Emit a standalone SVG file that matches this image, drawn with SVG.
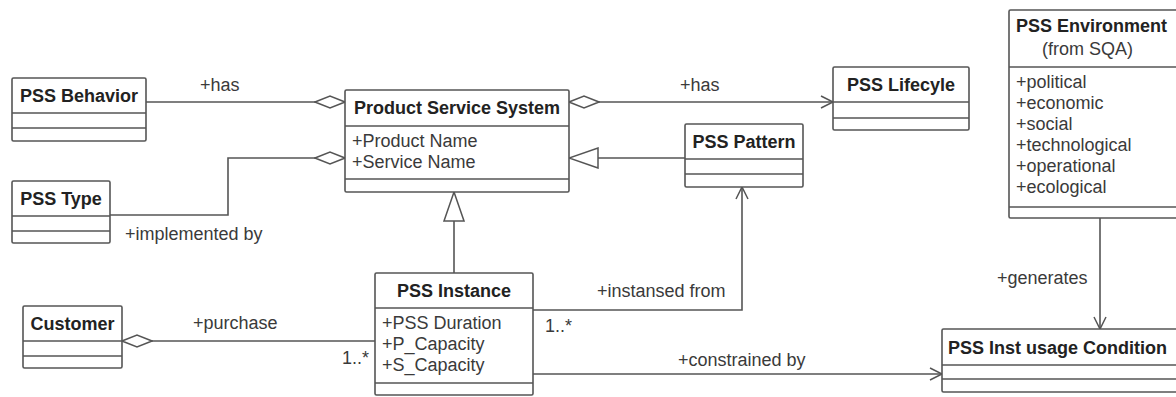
<svg xmlns="http://www.w3.org/2000/svg" width="1176" height="397" viewBox="0 0 1176 397">
<style>
.box{fill:#ffffff;stroke:#555555;stroke-width:1.6}
.div{stroke:#555555;stroke-width:1.6;fill:none}
.ln{stroke:#555555;stroke-width:1.6;fill:none}
.t{font-family:"Liberation Sans",Arial,sans-serif;font-size:18px;fill:#3a3a3a}
.b{font-weight:bold;fill:#222222}
.m{text-anchor:middle}
</style>
<defs>
<marker id="dia" markerUnits="userSpaceOnUse" viewBox="-1 -1 32 14" markerWidth="32" markerHeight="14" refX="30" refY="6" orient="auto-start-reverse">
<path d="M0,6 L15,0 L30,6 L15,12 Z" fill="#ffffff" stroke="#555555" stroke-width="1.5"/>
</marker>
<marker id="arr" markerUnits="userSpaceOnUse" viewBox="-1 -1 15 14" markerWidth="15" markerHeight="14" refX="12" refY="6" orient="auto">
<path d="M0,0 L12,6 L0,12" fill="none" stroke="#555555" stroke-width="1.5"/>
</marker>
<marker id="tri" markerUnits="userSpaceOnUse" viewBox="-1 -1 32 22" markerWidth="32" markerHeight="22" refX="29" refY="10" orient="auto">
<path d="M0,0 L29,10 L0,20 Z" fill="#ffffff" stroke="#555555" stroke-width="1.5"/>
</marker>
</defs>
<rect width="1176" height="397" fill="#ffffff"/>

<g id="connectors">
<path class="ln" d="M146,102 L345,102" marker-end="url(#dia)"/>
<path class="ln" d="M110,215 L228,215 L228,158 L345,158" marker-end="url(#dia)"/>
<path class="ln" d="M569,102 L833,102" marker-start="url(#dia)" marker-end="url(#arr)"/>
<path class="ln" d="M685,158 L569,158" marker-end="url(#tri)"/>
<path class="ln" d="M454,273 L454,192" marker-end="url(#tri)"/>
<path class="ln" d="M533,310 L742,310 L742,187" marker-end="url(#arr)"/>
<path class="ln" d="M375,341 L122,341" marker-end="url(#dia)"/>
<path class="ln" d="M533,374 L942,374" marker-end="url(#arr)"/>
<path class="ln" d="M1100,218 L1100,329" marker-end="url(#arr)"/>
<text class="t" x="200" y="91">+has</text>
<text class="t" x="125" y="240">+implemented by</text>
<text class="t" x="680" y="91">+has</text>
<text class="t" x="597" y="297">+instansed from</text>
<text class="t" x="545" y="332">1..*</text>
<text class="t" x="193" y="329">+purchase</text>
<text class="t" x="342" y="364">1..*</text>
<text class="t" x="678" y="366">+constrained by</text>
<text class="t" x="997" y="284">+generates</text>
</g>

<g id="pss-behavior">
<rect class="box" x="12" y="78" width="134" height="63" rx="1.5"/>
<path class="div" d="M12,113 H146 M12,128 H146"/>
<text class="t b m" x="79" y="102">PSS Behavior</text>
</g>

<g id="pss-type">
<rect class="box" x="12" y="181" width="98" height="62" rx="1.5"/>
<path class="div" d="M12,216 H110 M12,231 H110"/>
<text class="t b m" x="61" y="205">PSS Type</text>
</g>

<g id="product-service-system">
<rect class="box" x="345" y="90" width="224" height="102" rx="1.5"/>
<path class="div" d="M345,126 H569 M345,179 H569"/>
<text class="t b m" x="457" y="114">Product Service System</text>
<text class="t" x="352" y="147">+Product Name</text>
<text class="t" x="352" y="168">+Service Name</text>
</g>

<g id="pss-lifecycle">
<rect class="box" x="833" y="67" width="136" height="63" rx="1.5"/>
<path class="div" d="M833,102 H969 M833,118 H969"/>
<text class="t b m" x="901" y="91">PSS Lifecyle</text>
</g>

<g id="pss-pattern">
<rect class="box" x="685" y="124" width="118" height="63" rx="1.5"/>
<path class="div" d="M685,159 H803 M685,174 H803"/>
<text class="t b m" x="744" y="148">PSS Pattern</text>
</g>

<g id="pss-environment">
<rect class="box" x="1009" y="10" width="175" height="208" rx="1.5"/>
<path class="div" d="M1009,67 H1184 M1009,207 H1184"/>
<text class="t b" x="1016" y="32">PSS Environment</text>
<text class="t" x="1042" y="55">(from SQA)</text>
<text class="t" x="1016" y="88">+political</text>
<text class="t" x="1016" y="109">+economic</text>
<text class="t" x="1016" y="130">+social</text>
<text class="t" x="1016" y="151">+technological</text>
<text class="t" x="1016" y="172">+operational</text>
<text class="t" x="1016" y="193">+ecological</text>
</g>

<g id="pss-instance">
<rect class="box" x="375" y="273" width="158" height="122" rx="1.5"/>
<path class="div" d="M375,308 H533 M375,383 H533"/>
<text class="t b m" x="454" y="297">PSS Instance</text>
<text class="t" x="382" y="329">+PSS Duration</text>
<text class="t" x="382" y="350">+P_Capacity</text>
<text class="t" x="382" y="371">+S_Capacity</text>
</g>

<g id="customer">
<rect class="box" x="23" y="306" width="99" height="62" rx="1.5"/>
<path class="div" d="M23,341 H122 M23,356 H122"/>
<text class="t b m" x="72.5" y="330">Customer</text>
</g>

<g id="pss-inst-usage-condition">
<rect class="box" x="942" y="329" width="242" height="63" rx="1.5"/>
<path class="div" d="M942,365 H1184 M942,379 H1184"/>
<text class="t b" x="948" y="353.5">PSS Inst usage Condition</text>
</g>
</svg>
